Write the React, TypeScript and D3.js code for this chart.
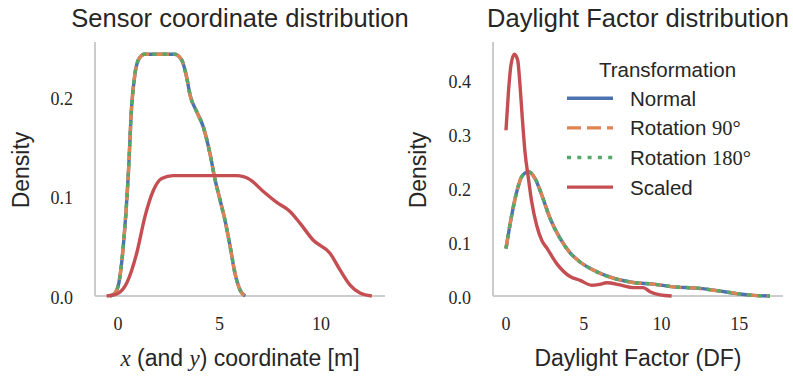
import React from "react";
import * as d3 from "d3";

type Pt = [number, number];

const seriesNames = ["Normal", "Rotation 90°", "Rotation 180°", "Scaled"];
const seriesColors = ["#4c72b0", "#dd8452", "#55a868", "#c44e52"];

const coordTicksX = [0, 5, 10];
const coordTicksY = [0, 0.1, 0.2];
const dfTicksX = [0, 5, 10, 15];
const dfTicksY = [0, 0.1, 0.2, 0.3, 0.4];

// Sensor coordinate KDE (Normal, Rotation 90°, Rotation 180° coincide)
const coordNormal: Pt[] = [
  [-0.39, 0], [-0.15, 0.003], [0.05, 0.014], [0.26, 0.05], [0.51, 0.123], [0.67, 0.19],
  [0.84, 0.224], [1.05, 0.239], [1.3, 0.243], [2.0, 0.243], [2.8, 0.243], [3.14, 0.237],
  [3.38, 0.22], [3.55, 0.202], [3.88, 0.185], [4.2, 0.17], [4.53, 0.143], [4.78, 0.117],
  [5.02, 0.097], [5.27, 0.076], [5.52, 0.05], [5.76, 0.023], [6.01, 0.006], [6.26, 0],
];
const coordRot90: Pt[] = coordNormal;
const coordRot180: Pt[] = coordNormal;
const coordScaled: Pt[] = [
  [-0.56, 0], [-0.06, 0.002], [0.43, 0.013], [0.92, 0.043], [1.33, 0.08], [1.74, 0.106],
  [2.15, 0.118], [2.72, 0.121], [4.0, 0.121], [5.85, 0.121], [6.5, 0.117], [7.16, 0.105],
  [7.82, 0.094], [8.47, 0.085], [8.97, 0.073], [9.62, 0.056], [10.44, 0.043], [10.94, 0.026],
  [11.43, 0.011], [11.92, 0.003], [12.5, 0],
];

// Daylight Factor KDE
const dfNormal: Pt[] = [
  [0, 0.088], [0.37, 0.15], [0.69, 0.193], [1.01, 0.221], [1.44, 0.23], [1.86, 0.218],
  [2.3, 0.187], [2.83, 0.144], [3.47, 0.107], [4.12, 0.08], [4.76, 0.063], [5.61, 0.048],
  [6.9, 0.033], [8.19, 0.025], [9.47, 0.022], [10.76, 0.017], [12.26, 0.0145], [13.55, 0.01],
  [14.84, 0.0045], [15.9, 0.0012], [16.97, 0],
];
const dfRot90: Pt[] = dfNormal;
const dfRot180: Pt[] = dfNormal;
const dfScaled: Pt[] = [
  [0, 0.307], [0.15, 0.375], [0.32, 0.428], [0.54, 0.448], [0.75, 0.437], [0.9, 0.391],
  [1.05, 0.329], [1.22, 0.267], [1.44, 0.218], [1.65, 0.175], [1.97, 0.131], [2.3, 0.103],
  [2.62, 0.089], [3.26, 0.06], [4.12, 0.036], [4.76, 0.029], [5.51, 0.02], [5.93, 0.021],
  [6.48, 0.0245], [7.33, 0.0205], [8.19, 0.0155], [8.83, 0.0155], [9.26, 0.008], [9.9, 0.002],
  [10.65, 0],
];

const SANS = "'Liberation Sans', Arial, sans-serif";
const SERIF = "'Liberation Serif', 'DejaVu Serif', serif";
const TEXT = "#262626";
const SPINE = "#cccccc";
const LW = 3.4;
const dashes = [null, "14,6", "4,6.3", null];

interface PanelProps {
  x0: number; x1: number; y0: number; y1: number;
  xDomain: [number, number]; yDomain: [number, number];
  xTicks: number[]; yTicks: number[];
  series: Pt[][];
  title: string;
  xLabel: React.ReactNode;
  yLabelX: number;
}

function Panel(p: PanelProps) {
  const x = d3.scaleLinear().domain(p.xDomain).range([p.x0, p.x1]);
  const y = d3.scaleLinear().domain(p.yDomain).range([p.y1, p.y0]);
  const line = d3
    .line<Pt>()
    .x((d) => x(d[0]))
    .y((d) => y(d[1]))
    .curve(d3.curveMonotoneX);
  const cx = (p.x0 + p.x1) / 2;
  const cy = (p.y0 + p.y1) / 2;
  return (
    <g>
      <text x={cx} y={27} textAnchor="middle" fontFamily={SANS} fontSize={25.5} fill={TEXT}>
        {p.title}
      </text>
      <line x1={p.x0} x2={p.x0} y1={p.y0} y2={p.y1} stroke={SPINE} strokeWidth={2} />
      <line x1={p.x0} x2={p.x1} y1={p.y1} y2={p.y1} stroke={SPINE} strokeWidth={2} />
      {p.yTicks.map((t) => (
        <text key={"y" + t} x={p.x0 - 22} y={y(t) + 1.5} textAnchor="end" dominantBaseline="central"
          fontFamily={SERIF} fontSize={18} fill={TEXT}>
          {t.toFixed(1)}
        </text>
      ))}
      {p.xTicks.map((t) => (
        <text key={"x" + t} x={x(t)} y={330} textAnchor="middle" fontFamily={SERIF} fontSize={18} fill={TEXT}>
          {t}
        </text>
      ))}
      {p.series.map((s, i) => (
        <path key={i} d={line(s) || ""} fill="none" stroke={seriesColors[i]} strokeWidth={LW}
          strokeDasharray={dashes[i] || undefined} strokeLinejoin="round" />
      ))}
      <text x={cx} y={366} textAnchor="middle" fontFamily={SANS} fontSize={23} fill={TEXT}>
        {p.xLabel}
      </text>
      <text transform={`translate(${p.yLabelX},${cy + 1}) rotate(-90)`} textAnchor="middle"
        fontFamily={SANS} fontSize={23} fill={TEXT}>
        Density
      </text>
    </g>
  );
}

export default function App() {
  const legendY0 = 98.3;
  const legendStep = 29.6;
  return (
    <svg width={793} height={379} style={{ position: "absolute", left: 0, top: 0, background: "#fff" }}>
      <Panel
        x0={95} x1={385} y0={42} y1={296}
        xDomain={[-1.133, 13.15]} yDomain={[0, 0.2553]}
        xTicks={coordTicksX} yTicks={coordTicksY}
        series={[coordNormal, coordRot90, coordRot180, coordScaled]}
        title="Sensor coordinate distribution"
        xLabel={<>
          <tspan fontFamily={SERIF} fontStyle="italic">x</tspan>
          <tspan> (and </tspan>
          <tspan fontFamily={SERIF} fontStyle="italic">y</tspan>
          <tspan>) coordinate [m]</tspan>
        </>}
        yLabelX={28.5}
      />
      <Panel
        x0={493} x1={783} y0={42} y1={296}
        xDomain={[-0.836, 17.81]} yDomain={[0, 0.4704]}
        xTicks={dfTicksX} yTicks={dfTicksY}
        series={[dfNormal, dfRot90, dfRot180, dfScaled]}
        title="Daylight Factor distribution"
        xLabel="Daylight Factor (DF)"
        yLabelX={425.5}
      />
      <g>
        <text x={667.5} y={77} textAnchor="middle" fontFamily={SANS} fontSize={20.5} fill={TEXT}>
          Transformation
        </text>
        {seriesNames.map((name, i) => {
          const yy = legendY0 + i * legendStep;
          const m = name.match(/^(Rotation )(\d+°)$/);
          return (
            <g key={name}>
              <line x1={567} x2={613} y1={yy} y2={yy} stroke={seriesColors[i]} strokeWidth={LW}
                strokeDasharray={dashes[i] || undefined} />
              <text x={630} y={yy + 7.5} fontFamily={SANS} fontSize={20.5} fill={TEXT}>
                {m ? (<><tspan>{m[1]}</tspan><tspan fontFamily={SERIF}>{m[2]}</tspan></>) : name}
              </text>
            </g>
          );
        })}
      </g>
    </svg>
  );
}
